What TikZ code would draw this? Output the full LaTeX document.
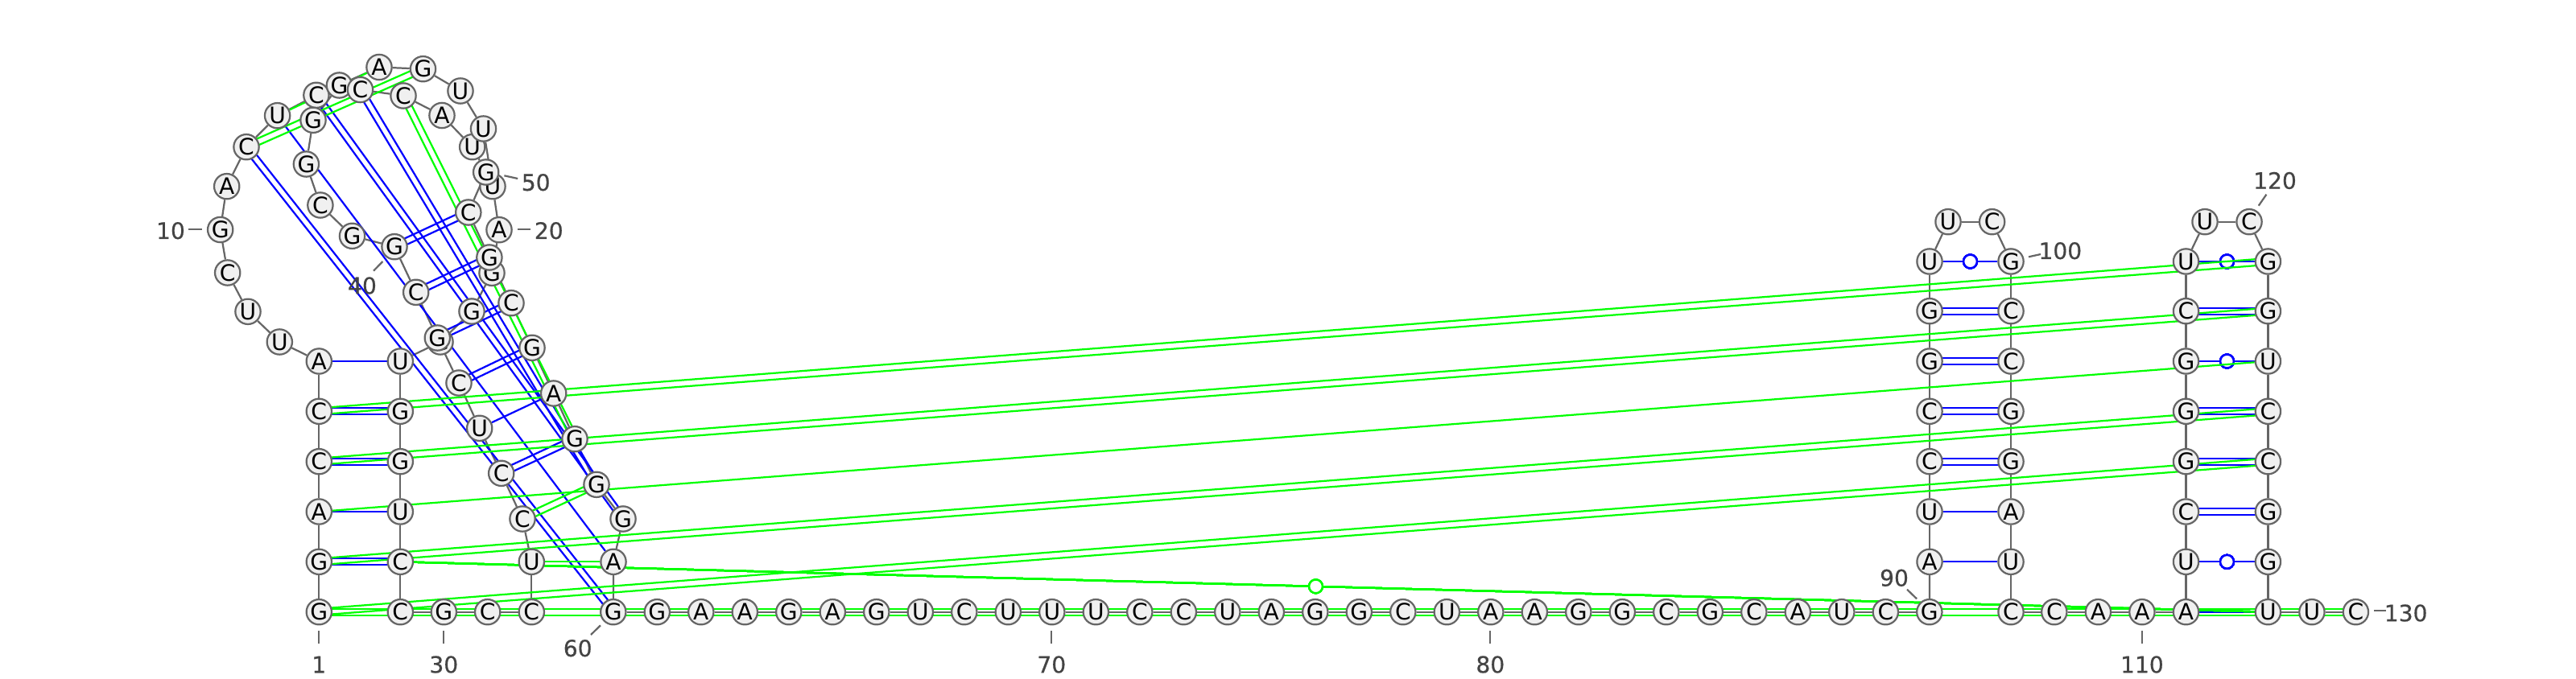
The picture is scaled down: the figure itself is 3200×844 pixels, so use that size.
\documentclass[tikz,border=0pt]{standalone}
\usepackage{fontspec}
\setmainfont{DejaVu Sans}
\newfontfamily\numfont[FakeBold=0.5]{DejaVu Sans}
\usetikzlibrary{calc,backgrounds}
\definecolor{pairblue}{HTML}{0000FF}
\definecolor{pairgreen}{HTML}{00FF00}
\definecolor{basegray}{HTML}{666666}
\definecolor{basefill}{HTML}{F0F0F0}
\definecolor{numgray}{HTML}{444444}
\def\bgap{0.12cm}
% two parallel lines between a pair of bases
\newcommand{\dbond}[3]{
    \draw[#1] ($(#2)!\bgap!90:(#3)$) -- ($(#3)!\bgap!-90:(#2)$);
    \draw[#1] ($(#2)!\bgap!-90:(#3)$) -- ($(#3)!\bgap!90:(#2)$);
}
\tikzset{
    base/.style={circle, draw=basegray, fill=basefill, line width=1.9pt, minimum size=0.94cm,
        inner sep=0pt, font=\fontsize{24}{28}\selectfont},
    backbone/.style={draw=basegray, line width=1.9pt},
    blueb/.style={draw=pairblue, line width=1.9pt},
    greenb/.style={draw=pairgreen, line width=1.9pt},
    wobble/.style={circle, fill=white, line width=2pt, minimum size=0.5cm, inner sep=0pt},
    num/.style={text=numgray, inner sep=0pt, font=\numfont\fontsize{24}{28}\selectfont},
    numtick/.style={draw=basegray, line width=1.9pt},
}

\begin{document}
\begin{tikzpicture}[x=0.03cm, y=-0.03cm]
    \useasboundingbox (0,0) rectangle (3200,844);
    \def\dx{54.5};

    % first stem and the big loop
    \foreach \n/\x/\y/\bs in {1/396.3/760.7/G, 2/396.3/698.3/G, 3/396.3/636/A, 4/396.3/573.7/C,
        5/396.3/511.3/C, 6/396.3/449/A, 7/347.3/425/U, 8/308/387.3/U, 9/282.7/339/C,
        10/273.7/285.5/G, 11/281.7/231.7/A, 12/306/182.7/C, 13/344.6/143.7/U, 14/392.9/118.3/C,
        15/471/83.5/A, 16/525.5/85.7/G, 17/572/113/U, 19/612/231.7/U, 20/620/285.7/A,
        21/611/339.3/G, 22/586/387/G, 23/547/425/G, 24/497.3/449/U, 25/497.3/511.3/G,
        26/497.3/573.7/G, 27/497.3/636/U, 28/497.3/698.3/C, 29/497.3/760.7/C, 30/551.3/760.7/G,
        31/605.7/760.7/C, 32/660.3/760.7/C, 33/660.3/698.3/U, 34/649/645/C, 35/622.7/588.3/C,
        36/595.7/532.3/U, 37/570/476/C, 38/543.3/420/G, 39/516.7/363.3/C, 40/490/306.7/G,
        41/437.5/293.3/G, 42/397.9/255/C, 43/380.4/204/G, 44/389/149.3/G, 45/421.4/106/G,
        46/447.5/111.5/C, 47/501/119/C, 48/549/143.5/A, 49/586.7/182.7/U, 18/600.5/160/U,
        50/603.7/214/G, 51/581.8/264/C, 52/607.9/320/G, 53/635/376.7/C, 54/661/432.3/G,
        55/687.7/489/A, 56/714/545.7/G, 57/741/602.3/G, 58/774/645/G, 59/762/698.3/A}
        \node[base] (n\n) at (\x,\y) {\bs};

    % the long row
    \foreach \n/\bs in {60/G, 61/G, 62/A, 63/A, 64/G, 65/A, 66/G, 67/U, 68/C, 69/U, 70/U, 71/U,
        72/C, 73/C, 74/U, 75/A, 76/G, 77/G, 78/C, 79/U, 80/A, 81/A, 82/G, 83/G, 84/C, 85/G,
        86/C, 87/A, 88/U, 89/C, 90/G}
        \node[base] (n\n) at ({761.8+\dx*(\n-60)},760.7) {\bs};

    % the two hairpins and the tail
    \foreach \n/\x/\y/\bs in {91/2397/698.3/A, 92/2397/636/U, 93/2397/573.7/C, 94/2397/511.3/C,
        95/2397/449/G, 96/2397/386.7/G, 97/2397/325/U, 98/2420/275.7/U, 99/2474.6/275.7/C,
        100/2498/325/G, 101/2498/386.7/C, 102/2498/449/C, 103/2498/511.3/G, 104/2498/573.7/G,
        105/2498/636/A, 106/2498/698.3/U, 107/2498/760.7/C, 108/2551.8/760.7/C, 109/2606.4/760.7/A,
        110/2660.9/760.7/A, 111/2715.5/760.7/A, 112/2715.5/698.3/U, 113/2715.5/636/C,
        114/2715.5/573.7/G, 115/2715.5/511.3/G, 116/2715.5/449/G, 117/2715.5/386.7/C,
        118/2715.5/325/U, 119/2739/275.7/U, 120/2794/275.7/C, 121/2817.4/325/G, 122/2817.4/386.7/G,
        123/2817.4/449/U, 124/2817.4/511.3/C, 125/2817.4/573.7/C, 126/2817.4/636/G,
        127/2817.4/698.3/G, 128/2817.4/760.7/U, 129/2871.9/760.7/U, 130/2926.4/760.7/C}
        \node[base] (n\n) at (\x,\y) {\bs};

    % numbers with their ticks
    \foreach \t/\ax/\ay/\bx/\by/\lx/\ly in {1/396.3/784/396.3/800/396.3/826,
        10/233.6/285.3/251.4/285.3/212/286.7, 20/642.5/285.3/659.3/285.3/681.8/286.7,
        30/551.3/784/551.3/800/551.3/826, 40/464/336.7/475.4/325/450/355,
        50/626.4/218.3/643.2/222/665.7/226.7, 60/746/777.3/734/789/717.7/805.7,
        70/1306.3/784/1306.3/800/1306.3/826, 80/1851.3/784/1851.3/800/1851.3/826,
        90/2381/744.3/2369/732.7/2353/718.3, 100/2520/319.3/2535/316/2559.3/311.7,
        110/2660.9/784/2660.9/800/2660.9/826, 120/2805.7/255.7/2815.4/241.7/2826/224.5,
        130/2949.3/759.3/2963.8/759.3/2988.6/762} {
        \node[num] (l\t) at (\lx,\ly) {\t};
        \coordinate (ta\t) at (\ax,\ay);
        \coordinate (tb\t) at (\bx,\by);
        \draw[numtick] (ta\t) -- (tb\t);
    }

    \begin{scope}[on background layer]
        % backbone
        \foreach \i in {1,...,129} {
            \pgfmathtruncatemacro{\j}{\i+1}
            \draw[backbone] (n\i) -- (n\j);
        }

        % blue pairs
        \foreach \p/\q in {3/27, 6/24, 13/59, 36/55, 91/106, 92/105, 111/128}
            \draw[blueb] (n\p) -- (n\q);
        \foreach \p/\q in {2/28, 4/26, 5/25, 12/60, 14/58, 35/56, 37/54, 38/53, 39/52, 40/51, 46/57,
            93/104, 94/103, 95/102, 96/101, 113/126, 114/125, 115/124, 117/122}
            \dbond{blueb}{n\p}{n\q}
        \foreach \p/\q in {97/100, 112/127, 116/123, 118/121}
            \draw[blueb] (n\p) -- node[wobble, draw=pairblue] (w\p) {} (n\q);

        % green pairs
        \foreach \p/\q in {3/123, 13/15, 33/59}
            \draw[greenb] (n\p) -- (n\q);
        \foreach \p/\q in {1/125, 1/130, 2/124, 4/122, 5/121, 12/16, 34/57, 47/56}
            \dbond{greenb}{n\p}{n\q}
        \draw[greenb] (n28) -- node[pos=0.49, wobble, draw=pairgreen] (w28) {} (n128);
    \end{scope}
\end{tikzpicture}
\end{document}
